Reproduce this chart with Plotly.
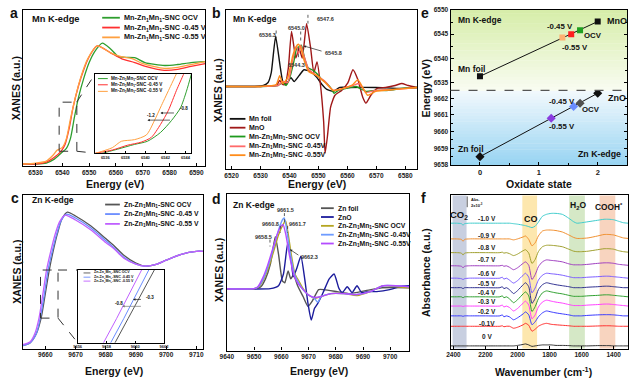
import plotly.graph_objects as go

W, H = 640, 381
FONT = "Liberation Sans"

def PX(x): return x / W
def PY(y): return 1 - y / H
def DX(a, b): return [a / W, b / W]
def DY(top, bottom): return [1 - bottom / H, 1 - top / H]

# ======================= DATA =======================
# (a) Mn K-edge XANES
a_E_ocv = [6525, 6530, 6534, 6537, 6539.5, 6541.5, 6543, 6544.5, 6546, 6548, 6550, 6552, 6554.9, 6558, 6561, 6567, 6570.8, 6578.2, 6583, 6588, 6593.3]
a_ocv   = [0.02, 0.02, 0.03, 0.07, 0.13, 0.18, 0.28, 0.50, 0.70, 0.90, 1.06, 1.17, 1.26, 1.20, 1.12, 1.11, 1.06, 1.03, 1.04, 1.06, 1.07]
a_E_045 = [6525, 6530, 6534, 6537, 6539.5, 6541, 6542.5, 6544, 6546, 6548, 6550, 6553, 6558, 6562, 6567, 6571, 6578, 6583, 6588, 6593.3]
a_045   = [0.02, 0.02, 0.04, 0.09, 0.15, 0.22, 0.38, 0.60, 0.82, 0.99, 1.12, 1.23, 1.16, 1.10, 1.06, 1.02, 0.98, 0.99, 1.02, 1.05]
a_E_055 = [6525, 6530, 6534, 6536.5, 6538, 6540, 6541.5, 6543, 6545, 6547, 6549.5, 6553, 6558, 6562, 6566, 6570, 6578, 6583, 6588, 6593.3]
a_055   = [0.02, 0.03, 0.05, 0.11, 0.16, 0.19, 0.28, 0.48, 0.72, 0.92, 1.10, 1.23, 1.16, 1.12, 1.10, 1.05, 1.00, 1.01, 1.04, 1.07]
# (a) inset
ai_E_ocv = [6535.0, 6535.7, 6537.2, 6538.9, 6540.2, 6541.5, 6542.6, 6543.5, 6544.1, 6544.6]
ai_ocv   = [-0.02, 0.0, 0.05, 0.11, 0.15, 0.26, 0.41, 0.57, 0.78, 1.0]
ai_E_045 = [6535.0, 6536.7, 6538.2, 6539.6, 6540.6, 6541.5, 6542.3, 6543.1, 6543.8, 6544.1]
ai_045   = [0.0, 0.04, 0.10, 0.14, 0.20, 0.36, 0.54, 0.79, 0.99, 1.08]
ai_E_055 = [6535.0, 6535.3, 6536.7, 6537.6, 6538.9, 6540.1, 6540.9, 6541.6, 6542.5, 6543.1, 6543.4]
ai_055   = [0.0, 0.01, 0.07, 0.15, 0.17, 0.23, 0.41, 0.60, 0.84, 1.0, 1.08]
a_labels = ["Mn-Zn<sub>1</sub>Mn<sub>1</sub>-SNC OCV", "Mn-Zn<sub>1</sub>Mn<sub>1</sub>-SNC -0.45 V", "Mn-Zn<sub>1</sub>Mn<sub>1</sub>-SNC -0.55 V"]

# (b) Mn K-edge derivative
b_E_foil = [6518, 6528, 6531, 6532.6, 6533.7, 6535.2, 6536.6, 6537.7, 6538.8, 6540.5, 6541.6, 6543.3, 6545.0, 6547.3, 6549.5, 6551.2, 6552.9, 6555.1, 6557.4, 6560.8, 6569.8, 6578.8, 6584.1]
b_foil   = [0.1, 0.1, 0.2, 0.5, 1.5, 5.2, 2.5, 0.6, 0.3, 1.0, 0.6, 1.2, 1.8, 1.6, 1.0, 0.3, -0.2, -0.4, 0.0, 0.0, 0.0, -0.1, 0.0]
b_E_mno = [6518, 6530, 6535.5, 6536.6, 6537.6, 6538.5, 6539.6, 6540.7, 6542.2, 6543.3, 6544.4, 6545.9, 6547.3, 6548.4, 6549.5, 6550.6, 6551.8, 6552.3, 6553.1, 6554.2, 6555.7, 6558.0, 6560.2, 6561.9, 6563.6, 6565.3, 6566.4, 6568.1, 6570.3, 6573.2, 6576.5, 6578.8, 6581.0, 6584.1]
b_mno   = [0.1, 0.1, 0.2, 0.7, 0.3, 0.3, 2.0, 5.7, 3.0, 4.0, 3.0, 6.5, 4.0, 1.5, 2.6, 0.5, -3.5, -6.7, -5.0, -2.0, -0.8, -0.3, 0.5, 1.8, 0.8, -1.0, -1.6, -0.8, -0.1, 0.0, 0.2, 0.4, 0.2, 0.0]
b_E_ocv = [6518, 6530, 6536, 6537.7, 6538.8, 6539.9, 6541.4, 6542.5, 6543.6, 6544.1, 6545.2, 6546.4, 6547.8, 6549.5, 6551.2, 6552.9, 6554.6, 6555.4, 6556.8, 6559.6, 6563, 6566.4, 6569.8, 6574.3, 6578.8, 6584.1]
b_ocv   = [0.1, 0.1, 0.2, 0.5, 0.2, 0.8, 2.5, 4.0, 4.2, 4.3, 3.0, 2.0, 1.8, 1.4, 0.8, 0.4, -0.2, -0.6, -0.3, -0.1, 0.1, -0.4, -0.3, -0.3, -0.1, 0.0]
b_E_045 = [6518, 6530, 6536, 6537.7, 6539.4, 6541.6, 6542.5, 6543.1, 6543.9, 6545.0, 6546.7, 6549.5, 6552.3, 6555.1, 6558.5, 6561.9, 6564.1, 6566.4, 6569.8, 6576.5, 6584.1]
b_045   = [0.1, 0.1, 0.2, 0.6, 0.5, 3.5, 4.2, 3.4, 4.3, 3.2, 1.8, 1.2, 0.6, -0.3, -0.1, 0.2, 0.4, -0.5, -0.3, -0.2, 0.0]
b_E_055 = [6518, 6530, 6535.4, 6536.6, 6537.7, 6539.4, 6541.1, 6542.2, 6543.0, 6543.9, 6545.0, 6546.7, 6549.5, 6552.3, 6555.1, 6558.5, 6561.9, 6563.6, 6565.3, 6567.0, 6569.8, 6576.5, 6584.1]
b_055   = [0.1, 0.1, 0.3, 1.2, 0.4, 1.0, 3.2, 4.1, 4.4, 4.0, 2.8, 1.6, 1.2, 0.5, -0.3, -0.1, 0.3, 0.8, 0.0, -0.8, -0.4, -0.2, 0.0]
b_labels = ["Mn foil", "MnO", "Mn-Zn<sub>1</sub>Mn<sub>1</sub>-SNC OCV", "Mn-Zn<sub>1</sub>Mn<sub>1</sub>-SNC -0.45V", "Mn-Zn<sub>1</sub>Mn<sub>1</sub>-SNC -0.55V"]
b_peaks = ["6536.3", "6545.0", "6547.6", "6545.8", "6544.3"]

# (c) Zn K-edge XANES
c_E_ocv = [9652.5, 9655, 9657, 9658.6, 9660, 9661.3, 9662.5, 9664, 9665.5, 9667.3, 9670, 9675, 9680, 9683, 9686, 9690, 9693, 9697, 9700, 9705, 9710, 9712.3]
c_ocv   = [0.03, 0.06, 0.15, 0.31, 0.56, 0.80, 0.98, 1.17, 1.32, 1.39, 1.35, 1.25, 1.12, 1.04, 0.95, 0.87, 0.84, 0.86, 0.90, 0.96, 0.99, 0.99]
c_E_045 = [9652.5, 9655, 9657, 9658.3, 9659.7, 9660.9, 9662.2, 9663.7, 9665.2, 9667.0, 9670, 9675, 9680, 9683, 9686, 9690, 9693, 9697, 9700, 9705, 9710, 9712.3]
c_045   = [0.03, 0.06, 0.15, 0.31, 0.56, 0.80, 0.98, 1.16, 1.30, 1.37, 1.33, 1.23, 1.10, 1.02, 0.93, 0.86, 0.84, 0.86, 0.90, 0.96, 0.99, 0.99]
c_E_055 = [9652.5, 9655, 9656.5, 9657.9, 9659.2, 9660.4, 9661.7, 9663.2, 9664.7, 9666.5, 9670, 9675, 9680, 9683, 9686, 9690, 9693, 9697, 9700, 9705, 9710, 9712.3]
c_055   = [0.04, 0.07, 0.15, 0.31, 0.56, 0.80, 0.98, 1.16, 1.29, 1.36, 1.31, 1.21, 1.08, 1.01, 0.92, 0.86, 0.84, 0.86, 0.90, 0.96, 0.99, 0.99]
ci_E_ocv = [9658.3, 9658.6, 9659.5, 9660.4, 9661.3, 9661.6]
ci_E_045 = [9658.0, 9658.3, 9659.2, 9660.05, 9660.9, 9661.2]
ci_E_055 = [9657.5, 9657.8, 9658.7, 9659.55, 9660.4, 9660.7]
ci_val   = [-0.1, 0.0, 0.33, 0.66, 1.0, 1.1]
c_labels = ["Zn-Zn<sub>1</sub>Mn<sub>1</sub>-SNC OCV", "Zn-Zn<sub>1</sub>Mn<sub>1</sub>-SNC -0.45 V", "Zn-Zn<sub>1</sub>Mn<sub>1</sub>-SNC -0.55 V"]

# (d) Zn K-edge derivative
d_E_foil = [9640, 9650, 9652.5, 9654.2, 9656, 9657.8, 9659, 9660.4, 9661.3, 9662.5, 9663.5, 9664.5, 9666, 9668, 9669.8, 9671.5, 9673.7, 9675.7, 9680.5, 9685.3, 9691, 9697, 9707]
d_foil   = [0.0, 0.0, 0.2, 1.0, 2.5, 5.3, 3.5, 0.8, 0.6, 1.8, 1.0, 1.4, 0.3, -0.8, -1.8, -1.2, -0.1, -0.1, -0.3, -0.5, -0.2, 0.1, 0.1]
d_E_zno = [9640, 9656, 9659, 9660.8, 9662.4, 9663.6, 9664.4, 9665.6, 9667.2, 9668.6, 9669.8, 9671.0, 9672.2, 9673.4, 9675.2, 9677.6, 9679.4, 9681.2, 9682.4, 9684.2, 9686.0, 9687.8, 9689.5, 9692, 9695, 9699.8, 9704.6, 9707]
d_zno   = [0.0, 0.0, 0.3, 1.5, 4.7, 3.0, 1.2, 2.0, 3.3, 1.0, -1.5, -3.2, -2.0, -1.5, -0.5, 1.0, 1.5, 0.0, -0.4, 0.2, -0.4, 0.3, -0.4, -0.3, -0.3, -0.1, 0.3, 0.3]
d_E_ocv = [9640, 9650, 9651.8, 9653.6, 9655.4, 9657.2, 9659.0, 9660.8, 9661.6, 9662.4, 9663.6, 9665.0, 9666.4, 9668.0, 9669.8, 9672.2, 9674.6, 9678.2, 9683.0, 9687.8, 9692.6, 9697.4, 9702.2, 9707]
d_ocv   = [0.0, 0.0, 0.2, 1.0, 2.2, 3.8, 5.5, 6.6, 6.9, 5.8, 3.6, 1.5, 0.8, 0.0, -0.6, -1.0, -0.8, -0.5, -0.5, -0.7, -0.3, 0.3, 0.2, 0.1]
d_E_045 = [9640, 9650, 9651.6, 9653.4, 9655.2, 9657.0, 9658.8, 9660.4, 9661.1, 9662.0, 9663.3, 9664.8, 9666.2, 9668.0, 9669.8, 9672.2, 9673.4, 9674.6, 9678.2, 9683.0, 9687.8, 9692.6, 9697.4, 9702.2, 9707]
d_045   = [0.0, 0.0, 0.2, 1.0, 2.3, 4.0, 5.8, 7.0, 7.2, 6.0, 3.6, 1.5, 0.7, -0.1, -0.6, -1.0, -1.4, -0.8, -0.5, -0.5, -0.6, -0.3, 0.3, 0.3, 0.2]
d_E_055 = [9640, 9650, 9651.4, 9653.2, 9655.0, 9656.8, 9658.6, 9660.0, 9660.7, 9661.6, 9663.0, 9664.6, 9666.0, 9668.0, 9669.8, 9672.2, 9674.6, 9678.2, 9683.0, 9687.8, 9692.6, 9697.4, 9702.2, 9707]
d_055   = [0.0, 0.0, 0.2, 1.1, 2.4, 4.0, 5.6, 6.4, 6.5, 5.6, 3.4, 1.4, 0.6, -0.1, -0.6, -0.9, -0.8, -0.5, -0.5, -0.6, -0.3, 0.3, 0.3, 0.2]
d_labels = ["Zn foil", "ZnO", "Zn-Zn<sub>1</sub>Mn<sub>1</sub>-SNC OCV", "Zn-Zn<sub>1</sub>Mn<sub>1</sub>-SNC -0.45V", "Zn-Zn<sub>1</sub>Mn<sub>1</sub>-SNC -0.55V"]
d_peaks = ["9661.5", "9660.8", "9661.7", "9658.5", "9662.3"]

# (e) edge energy vs oxidation state
e_mn_names = ["Mn foil", "-0.55 V", "-0.45 V", "OCV", "MnO"]
e_mn_ox = [0.0, 1.40, 1.55, 1.70, 2.0]
e_mn_E  = [6536.3, 6544.3, 6545.0, 6545.8, 6547.6]
e_zn_names = ["Zn foil", "-0.55 V", "-0.45 V", "OCV", "ZnO"]
e_zn_ox = [0.0, 1.21, 1.59, 1.70, 2.0]
e_zn_E  = [9658.5, 9660.8, 9661.5, 9661.7, 9662.3]

# (f) in-situ ATR-SEIRAS spectra
f_W = [2418, 2380, 2350, 2340, 2330, 2300, 2200, 2110, 2095, 2085, 2070, 2050, 2025, 2000, 1965, 1950, 1930, 1910, 1890, 1870,
       1845, 1820, 1790, 1760, 1720, 1680, 1650, 1630, 1600, 1560, 1500, 1460, 1430, 1400, 1370, 1340, 1310]
f_potentials = ["0 V", "-0.1V", "-0.2 V", "-0.3 V", "-0.4 V", "-0.5 V", "-0.6 V", "-0.7 V", "-0.8 V", "-0.9 V", "-1.0 V"]
f_offsets = [2.7, 22.7, 33.3, 43.3, 52.7, 62.0, 71.7, 84.3, 97.7, 111.7, 127.7]
f_label_y = [12.0, 26.0, 37.7, 47.7, 56.7, 66.7, 76.7, 91.0, 103.3, 115.3, 132.7]
f_0V   = [0, 0, 0, 0, 0, 0, 0, 0, 0, 0, 0, 0, 0, 0.5, 1.5, 2, 1, -0.5, 0, 0.5, 1, 1, 1, 0.5, 0.5, 0.3, 0, 0, 0, 0, 0.3, 0.3, 0.3, 0, 0, 0, 0]
f_01V  = [0, 0, 0, 0, 0, 0, 0, 0, 0.5, -0.5, 0, 0, -2, -1, 1.5, 3, 1, -5, -3, 0, 2, 3, 2, 1.5, 1, 0.5, 0, 0, 0, 0, 0.3, 0.5, 0.5, 0.3, 0, 0, 0]
f_02V  = [0, 0, 0, -0.5, 0, 0, 0, 0, 1, -1, 0, -1, -4, -2, 2, 4, 1, -9, -6, -1, 3, 5, 4, 3, 2, 1, 0, 0, 0, 0.5, 1, 1.2, 1.2, 1, 0.5, 0, 0]
f_03V  = [0, 0, 0, -0.5, 0, 0, 0, 0, 1, -1, 0, -1.5, -5, -2.5, 3, 5, 1, -13, -9, -1, 4, 6, 5, 4, 3, 1.5, 0.5, 0.5, 0.5, 1, 1.5, 2, 2, 1.5, 1, 0.5, 0]
f_04V  = [0, 0, 0, -1, 0, 0, 0, 0, 1, -1, 0, -2, -6, -3, 3, 5, 1, -15, -10, -2, 4, 6, 5, 4, 3, 1.5, 0.5, 0.5, 0.5, 1, 1.5, 2, 2, 1.5, 1, 0.5, 0]
f_05V  = [0, 0, 0, -1, 0, 0, 0, 0, 1, -1, 0, -2, -6, -3, 3, 5, 1, -16, -11, -2, 3, 5, 4, 3, 2, 1, 0, 0, 0, 0.5, 1, 1.5, 1.5, 1, 0.5, 0, 0]
f_06V  = [0, 0, -0.5, -1.5, -0.5, 0, 0, 0, 1, -1, 0, -2, -5, -2.5, 3, 5, 1, -15, -10, -2, 3, 5, 4.5, 4, 3, 1.5, 0.5, 0.5, 0.5, 1, 1.5, 2, 2, 1.5, 1, 0.5, 0]
f_07V  = [0, 0, -0.5, -2, -0.5, 0, 0, 0, 0.5, -0.5, 0, -1.5, -4, -2, 2.5, 4, 0.5, -14, -9, -1, 4, 6, 5.5, 5, 4, 2, 1, 1, 1, 1.5, 2.5, 3, 3, 2.5, 1.5, 1, 0.5]
f_08V  = [0, 0, -0.5, -2.5, -0.5, 0, 0, 0, 0.5, -0.5, 0, -1, -3, -1.5, 2, 3, -0.5, -11, -7, 1, 6, 7.5, 7.5, 7, 6, 3.5, 1.5, 1, 1, 1.5, 3, 4, 4, 3.5, 2, 1, 0.5]
f_09V  = [0, 0, -0.5, -2.5, -0.5, 0, 0, 0, 0, 0, 0, 0, -1, 0, 2, 3, -0.5, -7, -4, 3, 8, 9, 9, 8.5, 7, 4, 1.5, 0.5, 0.5, 1, 3, 4.5, 4.5, 4, 2.5, 1, 0.5]
f_10V  = [0, 0, -0.5, -2, -0.5, 0, 0, 0, 0, 0, 0, 0, -0.5, -1, -2, -2.5, -3.5, -4.5, -3, 1, 7, 9, 10, 10, 9, 5, 1.5, 0, 0.5, 1.5, 3, 4, 4, 3.5, 2, 0.5, 0]
f_spectra = [f_0V, f_01V, f_02V, f_03V, f_04V, f_05V, f_06V, f_07V, f_08V, f_09V, f_10V]
f_bands = [("CO2", 2318, 2405), ("CO", 1878, 1970), ("H2O", 1580, 1678), ("COOH", 1390, 1488)]

# ======================= STYLE =======================
a_colors = ["#2e9e2e", "#ff3030", "#ffa040"]
b_colors = ["#111111", "#a01818", "#1e9a1e", "#ff6a6a", "#ff8c1a"]
c_colors = ["#555555", "#6a8cff", "#c060ff"]
d_colors = ["#555555", "#1c1c9c", "#b5a521", "#6e9cff", "#b44cff"]
f_colors = ["#333333", "#ff3030", "#3a3aff", "#ff40ff", "#30a030", "#303090", "#7b5cff", "#a040c0", "#a0a030", "#f09030", "#40cccc"]
band_colors = ["#c8cfe0", "#fde7ae", "#d5e8c6", "#f8d4bf"]

fig = go.Figure()
shapes, annos = [], []

def curve(x, y, xa, ya, color, width=1.3, smooth=0.7, shape="spline"):
    ln = dict(color=color, width=width, shape=shape)
    if shape == "spline":
        ln["smoothing"] = smooth
    fig.add_trace(go.Scatter(x=x, y=y, xaxis=xa, yaxis=ya, mode="lines", line=ln,
                             showlegend=False, hoverinfo="skip"))

def text(x, y, t, size, color="#111", xa="center", ya="middle", angle=0, bold=True):
    annos.append(dict(x=PX(x), y=PY(y), xref="paper", yref="paper", text=t, showarrow=False,
                      font=dict(family=FONT, size=size, color=color, weight="bold" if bold else "normal"),
                      xanchor=xa, yanchor=ya, textangle=angle))

def pline(x0, y0, x1, y1, color="black", width=1.0, dash=None, layer="above"):
    shapes.append(dict(type="line", xref="paper", yref="paper", x0=PX(x0), y0=PY(y0), x1=PX(x1), y1=PY(y1),
                       line=dict(color=color, width=width, dash=dash), layer=layer))

def prect(x0, y0, x1, y1, fill, layer="below"):
    shapes.append(dict(type="rect", xref="paper", yref="paper", x0=PX(x0), y0=PY(y1), x1=PX(x1), y1=PY(y0),
                       fillcolor=fill, line=dict(width=0), layer=layer))

def legend(rows_y, x0, x1, xt, colors, labels, size, lw=1.8):
    for y, c, t in zip(rows_y, colors, labels):
        pline(x0, y, x1, y, c, lw)
        text(xt, y, t, size, xa="left")

def arrow(xr, yr, xh, yh, xt, yt, color="#222", width=0.7, size=0.7):
    annos.append(dict(x=xh, y=yh, xref=xr, yref=yr, ax=xt, ay=yt, axref=xr, ayref=yr, text="",
                      showarrow=True, arrowhead=2, arrowsize=size, arrowwidth=width, arrowcolor=color))

def parrow(xh, yh, dx, dy, color="#222", width=0.7, size=0.7):
    annos.append(dict(x=PX(xh), y=PY(yh), xref="paper", yref="paper", ax=dx, ay=dy, text="",
                      showarrow=True, arrowhead=2, arrowsize=size, arrowwidth=width, arrowcolor=color))

def axis(domain, rng, anchor, labels=True, tickvals=None, ticks="inside", size=6.5, mirror=True,
         side=None, showline=True, ticklen=3, minor=None, lw=1.1):
    d = dict(domain=domain, range=rng, anchor=anchor, showline=showline, linecolor="black", linewidth=lw,
             mirror=mirror, showgrid=False, zeroline=False, ticks=ticks, ticklen=ticklen, tickwidth=0.8,
             tickcolor="black", showticklabels=labels,
             tickfont=dict(family=FONT, size=size, color="#222", weight="bold"), fixedrange=True)
    if tickvals is not None:
        d["tickmode"] = "array"
        d["tickvals"] = tickvals
        d["ticktext"] = [str(v) for v in tickvals]
    if side:
        d["side"] = side
    if minor:
        d["minor"] = minor
    return d

# ---------------- backgrounds (panel e gradient, panel f bands) ----------------
def lerp(c0, c1, t):
    return "rgb(%d,%d,%d)" % tuple(round(c0[i] + (c1[i] - c0[i]) * t) for i in range(3))

n = 24
up_top, up_bot = (214, 237, 168), (249, 252, 242)
lo_top, lo_bot = (243, 249, 253), (152, 212, 242)
for i in range(n):
    y0 = 6 + (88 - 6) * i / n
    y1 = 6 + (88 - 6) * (i + 1) / n + 0.4
    prect(452, y0, 632, y1, lerp(up_top, up_bot, (i + 0.5) / n))
    y0 = 88 + (164 - 88) * i / n
    y1 = 88 + (164 - 88) * (i + 1) / n + 0.4
    prect(452, y0, 632, y1, lerp(lo_top, lo_bot, (i + 0.5) / n))

for (name, w0, w1), col in zip(f_bands, band_colors):
    shapes.append(dict(type="rect", xref="x9", yref="paper", x0=w0, x1=w1, y0=PY(351), y1=PY(195),
                       fillcolor=col, line=dict(width=0), layer="below"))

# ---------------- panel a ----------------
for E, v, c in zip([a_E_ocv, a_E_045, a_E_055], [a_ocv, a_045, a_055], a_colors):
    curve(E, v, "x", "y", c, 1.3)
for E, v, c in zip([ai_E_ocv, ai_E_045, ai_E_055], [ai_ocv, ai_045, ai_055], a_colors):
    curve(E, v, "x2", "y2", c, 1.0)
shapes.append(dict(type="rect", xref="x", yref="y", x0=6538.8, x1=6545.4, y0=0.151, y1=0.654,
                   line=dict(color="#333", width=1, dash="dash"), layer="above"))
pline(71, 100, 90, 71, "#333", 1, "dash")
pline(71, 150, 90, 152, "#333", 1, "dash")
text(7, 9, "a", 14)
text(23, 15, "Mn K-edge", 9.3, xa="left")
legend([14, 24, 34], 97, 115, 117, a_colors, a_labels, 7.3)
legend([76, 82.3, 89], 92.7, 102.7, 104, a_colors, a_labels, 4.6, lw=1.0)
arrow("x2", "y2", 6541.5, 0.506, 6543.0, 0.506)
arrow("x2", "y2", 6540.2, 0.416, 6542.6, 0.416)
text(174, 106.5, "-0.8", 4.5, xa="left")
text(147, 114, "-1.2", 4.5)
text(10, 86, "XANES (a.u.)", 10.5, angle=-90)
text(110, 183.5, "Energy (eV)", 10.5)

# ---------------- panel b ----------------
for E, v, c in zip([b_E_foil, b_E_mno, b_E_ocv, b_E_045, b_E_055], [b_foil, b_mno, b_ocv, b_045, b_055], b_colors):
    curve(E, v, "x3", "y3", c, 1.4, 0.5)
text(214, 9, "b", 14)
text(228, 15, "Mn K-edge", 8.5, xa="left")
legend([117, 126, 135, 145, 154], 227, 243, 245, b_colors, b_labels, 7.0)
text(265, 32, b_peaks[0], 5.5, "#333")
text(295.5, 24, b_peaks[1], 5.5, "#333")
text(314, 15, b_peaks[2], 5.5, "#333", xa="left")
text(322, 50, b_peaks[3], 5.5, "#333", xa="left")
text(295.5, 62, b_peaks[4], 5.5, "#333")
for (x, y0, y1) in [(274.3, 27, 35), (299.3, 28, 40), (306.7, 11, 20), (297, 45, 57)]:
    pline(x, y0, x, y1, "#333", 0.8, "dot")
parrow(302.3, 42.7, 19.4, 5.6)
text(215, 88, "XANES (a.u.)", 10.5, angle=-90)
text(316, 183.5, "Energy (eV)", 10.5)

# ---------------- panel e ----------------
curve([e_mn_ox[0], e_mn_ox[-1]], [e_mn_E[0], e_mn_E[-1]], "x4", "y4", "#111", 1.0, shape="linear")
curve([e_zn_ox[0], e_zn_ox[-1]], [e_zn_E[0], e_zn_E[-1]], "x5", "y5", "#111", 1.0, shape="linear")
fig.add_trace(go.Scatter(x=e_mn_ox, y=e_mn_E, xaxis="x4", yaxis="y4", mode="markers", text=e_mn_names,
                         marker=dict(symbol="square", size=6, color=["#111", "#ffb070", "#ff2020", "#20a020", "#111"]),
                         showlegend=False, hoverinfo="skip"))
fig.add_trace(go.Scatter(x=e_zn_ox, y=e_zn_E, xaxis="x5", yaxis="y5", mode="markers", text=e_zn_names,
                         marker=dict(symbol="diamond", size=7, color=["#111", "#8a3ce0", "#6a8cff", "#505050", "#111"]),
                         showlegend=False, hoverinfo="skip"))
pline(452, 88, 632, 88, "#555", 1.2, "dash")
text(426, 9, "e", 14)
text(458, 16, "Mn K-edge", 8.5, xa="left")
text(609, 17, "MnO", 9, xa="left")
text(564, 23.3, "-0.45 V", 7.8)
text(597.5, 31.7, "OCV", 7.8)
text(579, 44, "-0.55 V", 7.8)
text(473, 66.7, "Mn foil", 8.5)
text(565.5, 99.3, "-0.45 V", 7.8)
text(595.5, 107.7, "OCV", 7.8)
text(610, 95.7, "ZnO", 9, xa="left")
text(565.5, 125, "-0.55 V", 7.8)
text(473, 147.7, "Zn foil", 8.5)
text(628, 153.3, "Zn K-edge", 8.8, xa="right")
text(427, 86, "Energy (eV)", 10.5, angle=-90)
text(542, 183.5, "Oxidate state", 10.5)

# ---------------- panel c ----------------
for E, v, c in zip([c_E_ocv, c_E_045, c_E_055], [c_ocv, c_045, c_055], c_colors):
    curve(E, v, "x6", "y6", c, 1.3)
for E, c in zip([ci_E_ocv, ci_E_045, ci_E_055], c_colors):
    curve(E, ci_val, "x7", "y7", c, 1.0, shape="linear")
shapes.append(dict(type="rect", xref="x6", yref="y6", x0=9658.4, x1=9664.2, y0=0.31, y1=0.80,
                   line=dict(color="#333", width=1, dash="dash"), layer="above"))
pline(52, 271, 72, 271, "#333", 1, "dash")
pline(52, 320, 72, 345, "#333", 1, "dash")
text(8, 198, "c", 14)
text(23, 200, "Zn K-edge", 8.5, xa="left")
legend([204.3, 214, 224], 100, 115, 117, c_colors, c_labels, 6.8)
legend([274, 278.3, 282.3], 78, 85, 87, c_colors, c_labels, 3.6, lw=0.9)
arrow("x7", "y7", 9659.85, 0.595, 9660.5, 0.595)
arrow("x7", "y7", 9659.1, 0.50, 9660.5, 0.50, color="#777")
text(140, 298.5, "-0.3", 4.5, xa="left")
text(113.7, 305.5, "-0.8", 4.5)
text(10, 273, "XANES (a.u.)", 10.5, angle=-90)
text(109, 373.5, "Energy (eV)", 10.5)

# ---------------- panel d ----------------
for E, v, c in zip([d_E_foil, d_E_zno, d_E_ocv, d_E_045, d_E_055], [d_foil, d_zno, d_ocv, d_045, d_055], d_colors):
    curve(E, v, "x8", "y8", c, 1.4, 0.5)
text(214, 199, "d", 14)
text(228, 205, "Zn K-edge", 8.5, xa="left")
legend([208, 217, 226, 235, 244], 320, 333, 335, d_colors, d_labels, 6.8)
text(284, 210, d_peaks[0], 5.5, "#333")
text(269, 224.3, d_peaks[1], 5.5, "#333")
text(296, 224.3, d_peaks[2], 5.5, "#333")
text(261, 237.7, d_peaks[3], 5.5, "#333")
text(308, 257.7, d_peaks[4], 5.5, "#333")
for (x, y0, y1) in [(282.7, 213, 222), (278.5, 226, 233), (286, 226, 233), (268, 240, 247)]:
    pline(x, y0, x, y1, "#333", 0.8, "dot")
parrow(288.3, 250, 10, 6.7)
text(216, 271, "XANES (a.u.)", 10.5, angle=-90)
text(318, 373.5, "Energy (eV)", 10.5)

# ---------------- panel f ----------------
for off, s, c in zip(f_offsets, f_spectra, f_colors):
    curve(f_W, [off + v for v in s], "x9", "y9", c, 1.0, 0.6)
for lab, ly in zip(f_potentials, f_label_y):
    annos.append(dict(x=2188, y=ly, xref="x9", yref="y9", text=lab, showarrow=False,
                      font=dict(family=FONT, size=6.5, color="#222", weight="bold")))
text(424, 198, "f", 14)
text(460.5, 215, "CO<sub>2</sub>", 9.5)
text(534, 219, "CO", 9)
text(582, 205, "H<sub>2</sub>O", 8.5)
text(613.5, 207, "COOH<sup>*</sup>", 8.3)
pline(469, 196, 469, 207, "#333", 0.8)
text(471, 199.5, "Abs.", 4, xa="left")
text(471, 205, "2x10<sup>-3</sup>", 4, xa="left")
text(427, 273, "Absorbance (a.u.)", 10.5, angle=-90)
text(547, 374.5, "Wavenumber (cm<sup>-1</sup>)", 10.5)

# ======================= AXES =======================
axes = {
    "xaxis":  axis(DX(16, 202), [6525.2, 6593.3], "y", tickvals=[6530, 6540, 6550, 6560, 6570, 6580, 6590]),
    "yaxis":  axis(DY(6, 165), [0, 1.6], "x", labels=False, ticks=""),
    "xaxis2": axis(DX(90, 188), [6535.0, 6544.6], "y2", tickvals=[6536, 6538, 6540, 6542, 6544], size=4, ticklen=2, lw=0.9),
    "yaxis2": axis(DY(71, 152), [0, 1], "x2", labels=False, ticks="", lw=0.9),
    "xaxis3": axis(DX(223, 418), [6518, 6584.1], "y3", tickvals=[6520, 6530, 6540, 6550, 6560, 6570, 6580]),
    "yaxis3": axis(DY(6, 168), [-8.3, 7.9], "x3", labels=False, ticks=""),
    "xaxis4": axis(DX(452, 632), [-0.5, 2.5], "y4", labels=False, ticks="", mirror=False, side="top"),
    "yaxis4": axis(DY(6, 88), [6533.4, 6550], "x4", tickvals=[6535, 6540, 6545, 6550],
                   mirror="ticks", minor=dict(ticks="inside", ticklen=2, dtick=2.5, tick0=6535, tickcolor="black")),
    "xaxis5": axis(DX(452, 632), [-0.5, 2.5], "y5", tickvals=[0, 1, 2], mirror=False, size=7.5,
                   minor=dict(ticks="inside", ticklen=2, dtick=0.5, tick0=0, tickcolor="black")),
    "yaxis5": axis(DY(88, 164), [9658, 9662.47], "x5", tickvals=[9658, 9659, 9660, 9661, 9662],
                   mirror="ticks", minor=dict(ticks="inside", ticklen=2, dtick=0.5, tick0=9658, tickcolor="black")),
    "xaxis6": axis(DX(16, 200), [9652.5, 9712.3], "y6", tickvals=[9660, 9670, 9680, 9690, 9700, 9710]),
    "yaxis6": axis(DY(195, 351), [0, 1.56], "x6", labels=False, ticks=""),
    "xaxis7": axis(DX(72, 160), [9656, 9662], "y7", tickvals=[9656, 9658, 9660, 9662], size=4, ticklen=2, lw=0.9),
    "yaxis7": axis(DY(271, 345), [0, 1], "x7", labels=False, ticks="", lw=0.9),
    "xaxis8": axis(DX(224, 410), [9640, 9707], "y8", tickvals=[9640, 9650, 9660, 9670, 9680, 9690, 9700]),
    "yaxis8": axis(DY(194, 353), [-6.3, 9.6], "x8", labels=False, ticks=""),
    "xaxis9": axis(DX(452, 633), [2418, 1310], "y9", tickvals=[2400, 2200, 2000, 1800, 1600, 1400]),
    "yaxis9": axis(DY(195, 351), [0, 156], "x9", labels=False, ticks=""),
}

fig.update_layout(**axes)
fig.update_layout(width=W, height=H, margin=dict(l=0, r=0, t=0, b=0),
                  paper_bgcolor="white", plot_bgcolor="rgba(0,0,0,0)", showlegend=False,
                  font=dict(family=FONT, color="#111", weight="bold"),
                  shapes=shapes, annotations=annos)
fig.write_html("out.html", config={"displayModeBar": False},
               post_script="document.body.style.margin='0px';document.body.style.overflow='hidden';")
